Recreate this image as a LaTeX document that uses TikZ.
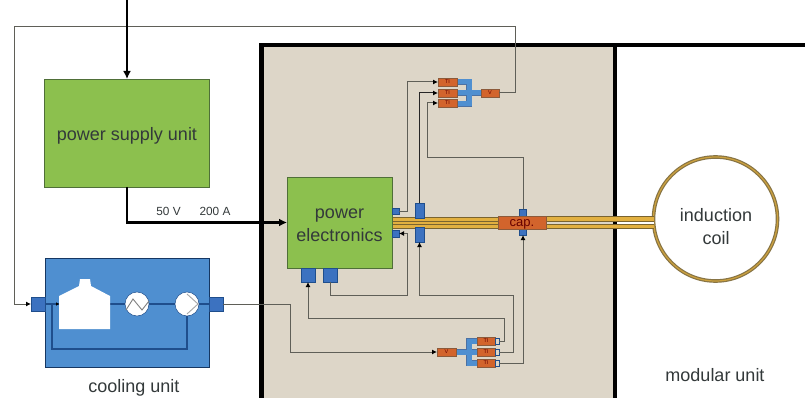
\documentclass[tikz,border=0pt]{standalone}
\usepackage{fontspec}
\setmainfont{Liberation Sans}
\usetikzlibrary{arrows.meta}
\definecolor{grn}{HTML}{8CC04E}
\definecolor{grnd}{HTML}{4F6F38}
\definecolor{blu}{HTML}{4F8FD0}
\definecolor{bluk}{HTML}{1F4E8C}
\definecolor{blu2}{HTML}{3C72C0}
\definecolor{sand}{HTML}{DDD6C8}
\definecolor{org}{HTML}{D2642C}
\definecolor{orgd}{HTML}{8C5A3A}
\definecolor{gold}{HTML}{E2B040}
\definecolor{goldd}{HTML}{7A6430}
\definecolor{wire}{HTML}{5F5F58}
\definecolor{txt}{HTML}{33393A}
\newcommand{\bx}[7]{\node[#6,minimum width={(#4)-(#2)},minimum height={(#5)-(#3)}] (#1) at ({((#2)+(#4))/2},{((#3)+(#5))/2}) {#7};}
\tikzset{
 x=1pt,y=-1pt,
 base/.style={inner sep=0pt,outer sep=0pt,align=center,text=txt,font=\fontsize{18}{22}\selectfont},
 gbox/.style={base,draw=grnd,line width=.9pt,fill=grn},
 cool/.style={base,draw=bluk!70!black,line width=.7pt,fill=blu},
 port/.style={base,draw=bluk,line width=.8pt,fill=blu2},
 ti/.style={base,draw=orgd,line width=.6pt,fill=org,text=black!60!red,font=\fontsize{5.5}{6}\selectfont},
 wirel/.style={draw=wire,line width=1pt},
 arr/.style={wirel,-{Latex[length=5pt,width=5pt,black]}},
 dark/.style={draw=black!85,line width=1pt},
 power/.style={draw=black,line width=2.1pt,-{Latex[length=8pt,width=8pt]}},
 manio/.style={draw=bluk!80,line width=6.4pt},
 mani/.style={draw=blu,line width=5pt},
 coolp/.style={draw=bluk,line width=1.1pt},
 lab/.style={base,font=\fontsize{11.8}{14}\selectfont},
 frameb/.style={draw=black,line width=4.5pt,line cap=butt},
}
\begin{document}
\begin{tikzpicture}
\useasboundingbox (0,0) rectangle (805,398);
\fill[white] (0,0) rectangle (805,398);
% frame
\coordinate (fa) at (261.5,398);
\coordinate (fb) at (261.5,45);
\coordinate (fc) at (805,45);
\coordinate (fd) at (615,45);
\coordinate (fe) at (615,398);
\fill[sand] (fa) rectangle (fd);
\draw[frameb] (fa) -- (fb) -- (fc);
\draw[frameb] (fd) -- (fe);
% bus and coil
\node[base,circle,draw=goldd!90,line width=3.6pt,minimum size=124pt] (coil) at (715.5,219) {};
\node[base,circle,draw=gold!80!goldd,line width=1.2pt,minimum size=124pt] (coili) at (715.5,219) {};
\node[base] (coilt) at (716,226.5) {induction\\[1pt]coil};
\fill[gold] (392,217) rectangle (650,228);
\foreach \yy in {217,221,224,228}{\draw[goldd,line width=.7pt] (392,\yy) -- (650,\yy);}
\fill[gold] (546,216.5) rectangle (654,228.5);
\fill[sand] (546,221) rectangle (613,224);
\fill[black] (613,221) rectangle (617,224);
\fill[white] (617,221) rectangle (654,224);
\foreach \yy in {216.5,221,224,228.5}{\draw[goldd,line width=.7pt] (546,\yy) -- (654,\yy);}
% units
\bx{psu}{44}{79}{209}{187}{gbox}{}
\node[base] (psut) at (127,135.5) {power supply unit};
\bx{pe}{287}{177}{392}{268}{gbox}{}
\node[base] (pet) at (339.5,225) {power\\[1pt]electronics};
\bx{cu}{45}{258}{209}{367}{cool}{}
\node[base] (cul) at (134,388) {cooling unit};
\node[base] (mod) at (715,375) {modular unit};
\node[lab] (l50) at (168.5,211) {50 V};
\node[lab] (l200) at (215,211) {200 A};
% ports
\bx{pl}{31}{297}{45}{311}{port}{}
\bx{pr}{209}{297}{223}{311}{port}{}
\bx{s1}{392}{208}{399}{214}{port}{}
\bx{s2}{392}{230}{399}{237}{port}{}
\bx{t1}{415}{203}{424}{218}{port}{}
\bx{t2}{415}{227}{424}{242}{port}{}
\bx{b1}{301}{268}{315}{282}{port}{}
\bx{b2}{323}{268}{337}{282}{port}{}
\bx{c1}{519}{209}{526}{235}{port}{}
\bx{cap}{498}{216}{546}{229}{ti}{}
\node[base,text=black!60!red,font=\fontsize{13}{15}\selectfont] (capt) at (522,224) {cap.};
% upper sensor group
\draw[manio] (457,82) -- (469,82) -- (469,104) -- (457,104);
\draw[manio] (457,93) -- (481,93);
\draw[mani] (457,82) -- (469,82) -- (469,104) -- (457,104);
\draw[mani] (457,93) -- (481,93);
\bx{ua}{438}{78}{457}{86}{ti}{TI}
\bx{ub}{438}{89}{457}{97}{ti}{TI}
\bx{uc}{438}{99}{457}{107}{ti}{TI}
\bx{uv}{481}{89}{499}{97}{ti}{V}
% lower sensor group
\draw[manio] (477,341) -- (469,341) -- (469,363) -- (477,363);
\draw[manio] (456,352) -- (477,352);
\draw[mani] (477,341) -- (469,341) -- (469,363) -- (477,363);
\draw[mani] (456,352) -- (477,352);
\bx{la}{477}{337}{495}{345}{ti}{TI}
\bx{lb}{477}{348}{495}{356}{ti}{TI}
\bx{lc}{477}{359}{495}{367}{ti}{TI}
\bx{lv}{437}{348}{456}{356}{ti}{V}
\foreach \nn/\yy in {ex1/341,ex2/352,ex3/363}{\node[base,draw=bluk,fill=sand,line width=.6pt,minimum width=4pt,minimum height=6pt] (\nn) at (497,\yy) {};}
% wires
\coordinate (w1) at (515,27);
\coordinate (w2) at (14,27);
\coordinate (w3) at (14,304);
\draw[arr] (uv.east) -| (w1) -- (w2) -- (w3) -- (pl.west |- w3);
\coordinate (w4) at (407,82);
\draw[arr] (s1.east) -| (w4) -- (ua.west);
\draw[dark,-{Latex[length=5pt,width=5pt,black]}] (t1.north) |- (ub.west);
\coordinate (w5) at (427,158);
\coordinate (w6) at (523,158);
\draw[arr] (c1.north -| w6) -- (w6) -- (w5) |- (uc.west);
\coordinate (w7) at (504,318);
\coordinate (w8) at (308,318);
\draw[arr] (ex1.east) -| (w7) -- (w8) -- (w8 |- b1.south);
\coordinate (w9) at (513,295);
\coordinate (w10) at (419.5,295);
\draw[arr] (ex2.east) -| (w9) -- (w10) -- (t2.south);
\coordinate (w11) at (523,363);
\draw[arr] (ex3.east) -- (w11) -- (w11 |- c1.south);
\coordinate (w12) at (330,295);
\coordinate (w13) at (407,295);
\coordinate (w14) at (407,233.5);
\draw[arr] (w12 |- b2.south) -- (w12) -- (w13) -- (w14) -- (s2.east);
\coordinate (w15) at (290,304);
\coordinate (w16) at (290,352);
\draw[arr] (pr.east) -- (w15) -- (w16) -- (lv.west);
% power
\coordinate (src) at (127,0);
\draw[power] (src) -- (psu.north -| src);
\draw[power] (psu.south -| src) |- (pe.west);
% cooling inside
\node[base,circle,fill=white,draw=bluk,line width=.5pt,minimum size=24pt] (hx1) at (137,304) {};
\node[base,circle,fill=white,draw=bluk,line width=.5pt,minimum size=24pt] (hx2) at (187,304) {};
\coordinate (tk) at (59,304);
\coordinate (tk2) at (110,304);
\coordinate (lp1) at (52,349);
\coordinate (lp2) at (187,349);
\draw[coolp] (pl.east) -- (tk);
\draw[coolp] (tk2) -- (hx1.west);
\draw[coolp] (hx1.east) -- (hx2.west);
\draw[coolp] (hx2.east) -- (pr.west);
\draw[coolp] (lp1 |- tk) -- (lp1) -- (lp2) -- (hx2.south);
\fill[white] (59,329) -- (59,296) -- (79,286) -- (80,279) -- (90,279) -- (91,286) -- (110,296) -- (110,329) -- cycle;
\draw[gray,line width=.9pt] (126,310) -- (133,299) -- (142,310) -- (149,301);
\draw[gray!70,line width=.9pt] (187,294) -- (198,304) -- (187,314);
\fill[black] (59,304) -- (56,302.3) -- (56,305.7) -- cycle;
\end{tikzpicture}
\end{document}
